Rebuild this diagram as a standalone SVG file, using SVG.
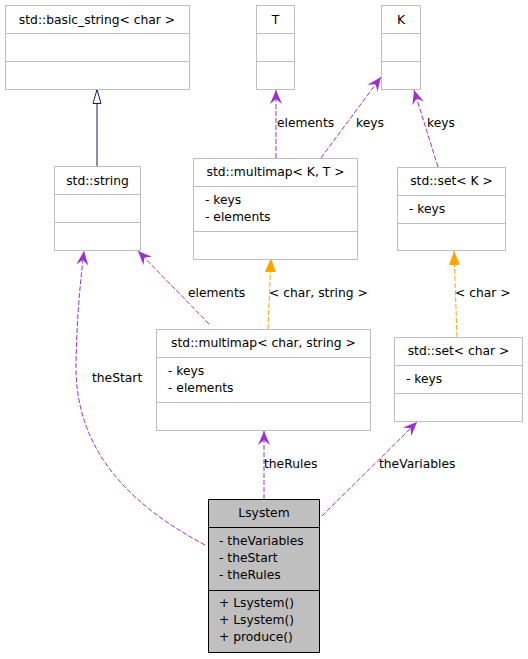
<svg xmlns="http://www.w3.org/2000/svg" width="528" height="659" viewBox="0 0 528 659">
<style>
text{font-family:"DejaVu Sans",sans-serif;font-size:12.3px;fill:#000}
.box{fill:#fff;stroke:#bfbfbf;stroke-width:1}
.sep{stroke:#bfbfbf;stroke-width:1}
.main{fill:#bfbfbf;stroke:#000;stroke-width:1}
.msep{stroke:#000;stroke-width:1}
.c{text-anchor:middle}
.use{fill:none;stroke:#9a32cd;stroke-width:1;stroke-dasharray:5,2;marker-end:url(#vee)}
.tpl{fill:none;stroke:#ffa500;stroke-width:1;stroke-dasharray:5,2;marker-end:url(#tri)}
.inh{fill:none;stroke:#191970;stroke-width:1;marker-end:url(#hollow)}
</style>
<defs>
<marker id="vee" viewBox="0 0 14 12" refX="14" refY="6" markerWidth="14" markerHeight="12" markerUnits="userSpaceOnUse" orient="auto">
<path d="M0,0 L14,6 L0,12 L5,6 z" fill="#9a32cd"/>
</marker>
<marker id="tri" viewBox="0 0 14 11" refX="14" refY="5.5" markerWidth="14" markerHeight="11" markerUnits="userSpaceOnUse" orient="auto">
<path d="M0,0 L14,5.5 L0,11 z" fill="#ffa500"/>
</marker>
<marker id="hollow" viewBox="-1 -1 16 11" refX="14" refY="4.5" markerWidth="16" markerHeight="11" markerUnits="userSpaceOnUse" orient="auto">
<path d="M0,0.5 L14,4.5 L0,8.5 z" fill="#fff" stroke="#191970" stroke-width="1"/>
</marker>
</defs>

<g id="connectors">
<path class="inh" d="M97,167 L97,89.5"/>
<path class="use" d="M276,158 L276,90"/>
<path class="use" d="M321,158 L381,77"/>
<path class="use" d="M438,167 L414,90"/>
<path class="use" d="M209,324 L138,251"/>
<path class="tpl" d="M268,329 L271,258"/>
<path class="tpl" d="M457,337 L454,251"/>
<path class="use" d="M205,545 C130,505 74,450 76,362 C77,315 80,285 84,251"/>
<path class="use" d="M264,499 L264,431"/>
<path class="use" d="M322,516 L417,422"/>
<text x="277" y="127">elements</text>
<text x="356" y="127">keys</text>
<text x="427" y="127">keys</text>
<text x="188" y="297">elements</text>
<text x="269" y="297">&lt; char, string &gt;</text>
<text x="455" y="297">&lt; char &gt;</text>
<text x="92" y="382">theStart</text>
<text x="264" y="468">theRules</text>
<text x="379" y="468">theVariables</text>
</g>

<g id="basic_string">
<rect class="box" x="5.5" y="5.5" width="184" height="84"/>
<line class="sep" x1="5.5" y1="33.5" x2="189.5" y2="33.5"/>
<line class="sep" x1="5.5" y1="61.5" x2="189.5" y2="61.5"/>
<text class="c" x="97" y="24">std::basic_string&lt; char &gt;</text>
</g>

<g id="T">
<rect class="box" x="256.5" y="5.5" width="38" height="84"/>
<line class="sep" x1="256.5" y1="33.5" x2="294.5" y2="33.5"/>
<line class="sep" x1="256.5" y1="61.5" x2="294.5" y2="61.5"/>
<text class="c" x="275.5" y="24">T</text>
</g>

<g id="K">
<rect class="box" x="381.5" y="5.5" width="39" height="84"/>
<line class="sep" x1="381.5" y1="33.5" x2="420.5" y2="33.5"/>
<line class="sep" x1="381.5" y1="61.5" x2="420.5" y2="61.5"/>
<text class="c" x="401" y="24">K</text>
</g>

<g id="string">
<rect class="box" x="54.5" y="166.5" width="86" height="84"/>
<line class="sep" x1="54.5" y1="194.5" x2="140.5" y2="194.5"/>
<line class="sep" x1="54.5" y1="222.5" x2="140.5" y2="222.5"/>
<text class="c" x="97.5" y="185">std::string</text>
</g>

<g id="multimap_KT">
<rect class="box" x="193.5" y="158.5" width="164" height="101"/>
<line class="sep" x1="193.5" y1="186.5" x2="357.5" y2="186.5"/>
<line class="sep" x1="193.5" y1="231.5" x2="357.5" y2="231.5"/>
<text class="c" x="275.5" y="176">std::multimap&lt; K, T &gt;</text>
<text x="205" y="204">- keys</text>
<text x="205" y="221">- elements</text>
</g>

<g id="set_K">
<rect class="box" x="397.5" y="167.5" width="108" height="83"/>
<line class="sep" x1="397.5" y1="195.5" x2="505.5" y2="195.5"/>
<line class="sep" x1="397.5" y1="223.5" x2="505.5" y2="223.5"/>
<text class="c" x="451.5" y="185">std::set&lt; K &gt;</text>
<text x="409" y="213">- keys</text>
</g>

<g id="multimap_char_string">
<rect class="box" x="156.5" y="329.5" width="214" height="101"/>
<line class="sep" x1="156.5" y1="357.5" x2="370.5" y2="357.5"/>
<line class="sep" x1="156.5" y1="402.5" x2="370.5" y2="402.5"/>
<text class="c" x="263.5" y="347">std::multimap&lt; char, string &gt;</text>
<text x="168" y="375">- keys</text>
<text x="168" y="392">- elements</text>
</g>

<g id="set_char">
<rect class="box" x="394.5" y="337.5" width="128" height="84"/>
<line class="sep" x1="394.5" y1="365.5" x2="522.5" y2="365.5"/>
<line class="sep" x1="394.5" y1="393.5" x2="522.5" y2="393.5"/>
<text class="c" x="458.5" y="355">std::set&lt; char &gt;</text>
<text x="406" y="383">- keys</text>
</g>

<g id="Lsystem">
<rect class="main" x="208.5" y="499.5" width="111" height="153"/>
<line class="msep" x1="208.5" y1="527.5" x2="319.5" y2="527.5"/>
<line class="msep" x1="208.5" y1="590.5" x2="319.5" y2="590.5"/>
<text class="c" x="264" y="517">Lsystem</text>
<text x="219" y="545">- theVariables</text>
<text x="219" y="562">- theStart</text>
<text x="219" y="579">- theRules</text>
<text x="219" y="607">+ Lsystem()</text>
<text x="219" y="624">+ Lsystem()</text>
<text x="219" y="641">+ produce()</text>
</g>
</svg>
